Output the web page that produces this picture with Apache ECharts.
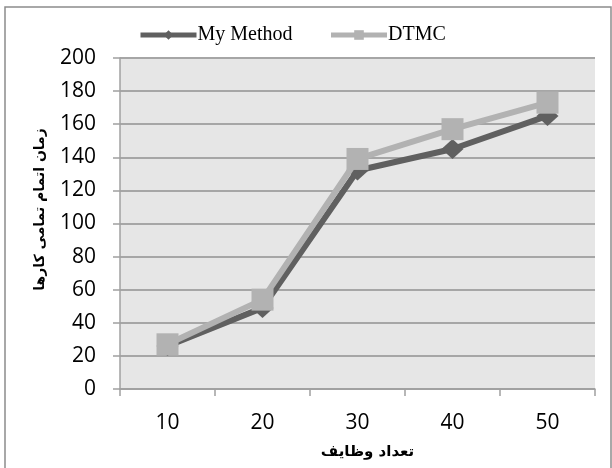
<!DOCTYPE html>
<html><head><meta charset="utf-8">
<script src="https://cdn.jsdelivr.net/npm/echarts@6/dist/echarts.min.js"></script>
<style>html,body{margin:0;padding:0;background:#fff}#c{width:612px;height:468px}</style>
</head><body><div id="c"></div>
<script>
const categories = ['10','20','30','40','50'];
const myMethod = [26, 49, 132, 145, 165];
const dtmc = [27, 54, 139, 157, 173];
const yTicks = {min:0, max:200, interval:20};
const seriesNames = ['My Method','DTMC'];
const xTitle = 'تعداد وظایف';
const yTitle = 'زمان اتمام تمامی کارها';

const chart = echarts.init(document.getElementById('c'), null, {renderer:'canvas'});
chart.setOption({
  animation:false,
  backgroundColor:'#fff',
  graphic:[{type:'rect', shape:{x:5,y:7,width:606,height:470}, style:{fill:'none', stroke:'#8c8c8c', lineWidth:1.5}, z:-10}],
  legend:{
    top:20, left:133, itemGap:36, itemWidth:56, itemHeight:12,
    lineStyle:{width:5},
    textStyle:{fontFamily:'Liberation Serif', fontSize:20, color:'#000', padding:[0,0,0,-4]},
    data:seriesNames
  },
  grid:{left:120, right:17, top:58, bottom:79, show:true, backgroundColor:'#e6e6e6', borderWidth:0},
  xAxis:{
    type:'category', data:categories, boundaryGap:true,
    axisLine:{show:true, lineStyle:{color:'#a0a0a0', width:1.5}},
    axisTick:{show:true, length:7, interval:0, lineStyle:{color:'#a0a0a0', width:1.5}},
    axisLabel:{fontFamily:'Open Sans', fontSize:21, color:'#000', margin:24},
    name:xTitle, nameLocation:'middle', nameGap:56,
    nameTextStyle:{fontFamily:'DejaVu Sans', fontWeight:'bold', fontSize:15, color:'#000', padding:[0,0,0,20]}
  },
  yAxis:{
    type:'value', min:yTicks.min, max:yTicks.max, interval:yTicks.interval,
    axisLine:{show:true, lineStyle:{color:'#a0a0a0', width:1.5}},
    axisTick:{show:true, length:7, lineStyle:{color:'#a0a0a0', width:1.5}},
    splitLine:{show:true, lineStyle:{color:'#a6a6a6', width:2}},
    axisLabel:{fontFamily:'Open Sans', fontSize:21, color:'#000', margin:24},
    name:yTitle, nameLocation:'middle', nameRotate:90, nameGap:73,
    nameTextStyle:{fontFamily:'DejaVu Sans', fontWeight:'bold', fontSize:14, color:'#000', padding:[0,0,0,28]}
  },
  series:[
    {name:seriesNames[0], type:'line', data:myMethod, symbol:'diamond', symbolSize:[22,20],
     itemStyle:{color:'#606060'}, lineStyle:{color:'#606060', width:6}, z:2},
    {name:seriesNames[1], type:'line', data:dtmc, symbol:'rect', symbolSize:22,
     itemStyle:{color:'#b2b2b2'}, lineStyle:{color:'#b2b2b2', width:6}, z:3}
  ]
});
</script></body></html>
